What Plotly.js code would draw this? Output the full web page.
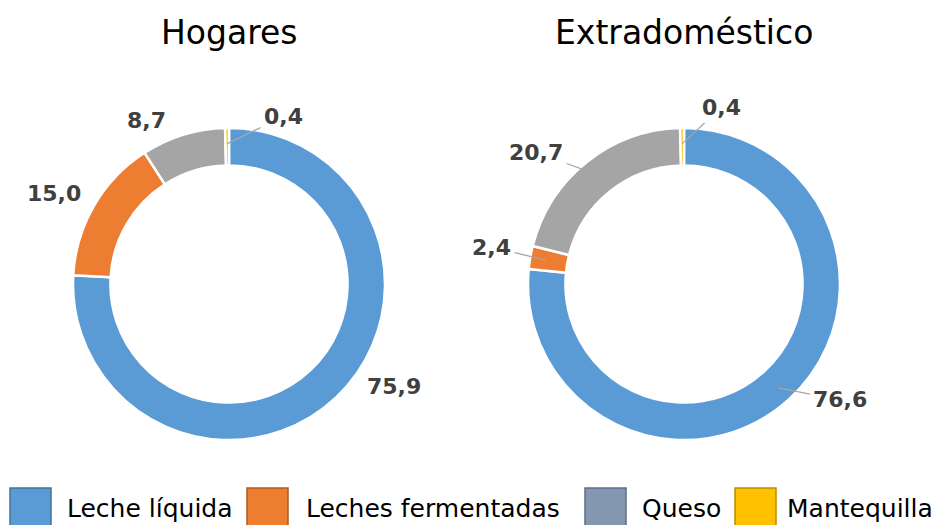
<!DOCTYPE html>
<html>
<head>
<meta charset="utf-8">
<script src="https://cdn.plot.ly/plotly-3.0.1.min.js"></script>
<style>html,body{margin:0;padding:0;background:#fff;}#chart{width:935px;height:525px;}</style>
</head>
<body>
<div id="chart"></div>
<script>
// ---- data ----
const categories = ['Leche líquida', 'Leches fermentadas', 'Queso', 'Mantequilla'];
const hogares = [75.9, 15.0, 8.7, 0.4];
const extradomestico = [76.6, 2.4, 20.7, 0.4];
const panelTitles = ['Hogares', 'Extradoméstico'];

// ---- styles ----
const W = 935, H = 525;
const sliceColors = ['#5B9BD5', '#ED7D31', '#A5A5A5', '#FFC000'];
const legendColors = ['#5B9BD5', '#ED7D31', '#8497B0', '#FFC000'];
const legendBorders = ['#41719C', '#AE5A21', '#5F6F85', '#BC8C00'];
const panels = [
  {cx: 229, cy: 284, r: 156},
  {cx: 684, cy: 284, r: 156}
];
// label offsets (px) from the anchor on the ring, and whether a leader line is drawn
const labelStyle = [
  [{dx: 69, dy: 0, leader: false}, {dx: -54, dy: -20, leader: false}, {dx: -41, dy: -29, leader: false}, {dx: 56, dy: -27, leader: true}],
  [{dx: 62, dy: 12, leader: true}, {dx: -54, dy: -13, leader: true}, {dx: -60, dy: -22, leader: true}, {dx: 39, dy: -36, leader: true}]
];
const legendBoxX = [10, 247, 585, 735];
const legendTextX = [65, 304, 640, 785];

const series = [hogares, extradomestico];
const data = [];
const annotations = [];
const shapes = [];

series.forEach((vals, p) => {
  const g = panels[p];
  data.push({
    type: 'pie',
    labels: categories,
    values: vals,
    sort: false,
    direction: 'clockwise',
    rotation: 0,
    hole: 0.76,
    textinfo: 'none',
    hoverinfo: 'label+value',
    showlegend: false,
    marker: {colors: sliceColors, line: {color: '#FFFFFF', width: 2.5}},
    domain: {
      x: [(g.cx - g.r) / W, (g.cx + g.r) / W],
      y: [1 - (g.cy + g.r) / H, 1 - (g.cy - g.r) / H]
    }
  });
  // panel title
  annotations.push({
    text: panelTitles[p], xref: 'paper', yref: 'paper',
    x: g.cx / W, y: 1 - 32 / H, xanchor: 'center', yanchor: 'middle',
    showarrow: false, font: {family: 'DejaVu Sans', size: 33, color: '#000000'}
  });
  // data labels
  const total = vals.reduce((a, b) => a + b, 0);
  let cum = 0;
  vals.forEach((v, i) => {
    const mid = (cum + v / 2) / total * 2 * Math.PI;
    cum += v;
    const rr = g.r * 0.9;
    const px = g.cx + rr * Math.sin(mid);
    const py = g.cy - rr * Math.cos(mid);
    const st = labelStyle[p][i];
    const txt = v.toFixed(1).replace('.', ',');
    const a = {
      text: '<b>' + txt + '</b>', xref: 'paper', yref: 'paper',
      x: px / W, y: 1 - py / H,
      font: {family: 'DejaVu Sans', size: 22, color: '#404040'}
    };
    if (st.leader) {
      Object.assign(a, {showarrow: true, arrowhead: 0, arrowwidth: 1.3, arrowcolor: '#A6A6A6',
        ax: st.dx, ay: st.dy, standoff: 0, startstandoff: 2});
    } else {
      Object.assign(a, {showarrow: false, xshift: st.dx, yshift: -st.dy, xanchor: 'center', yanchor: 'middle'});
    }
    annotations.push(a);
  });
});

// legend
categories.forEach((c, i) => {
  shapes.push({
    type: 'rect', xref: 'paper', yref: 'paper',
    x0: legendBoxX[i] / W, x1: (legendBoxX[i] + 41) / W,
    y0: 1 - 540 / H, y1: 1 - 488 / H,
    fillcolor: legendColors[i], line: {color: legendBorders[i], width: 1.5}
  });
  annotations.push({
    text: c, xref: 'paper', yref: 'paper',
    x: legendTextX[i] / W, y: 1 - 508 / H, xanchor: 'left', yanchor: 'middle',
    showarrow: false, font: {family: 'DejaVu Sans', size: 25, color: '#000000'}
  });
});

const layout = {
  width: W, height: H,
  margin: {l: 0, r: 0, t: 0, b: 0},
  paper_bgcolor: '#FFFFFF',
  separators: ',.',
  showlegend: false,
  annotations: annotations,
  shapes: shapes
};
Plotly.newPlot('chart', data, layout, {displayModeBar: false, staticPlot: true});
</script>
</body>
</html>
